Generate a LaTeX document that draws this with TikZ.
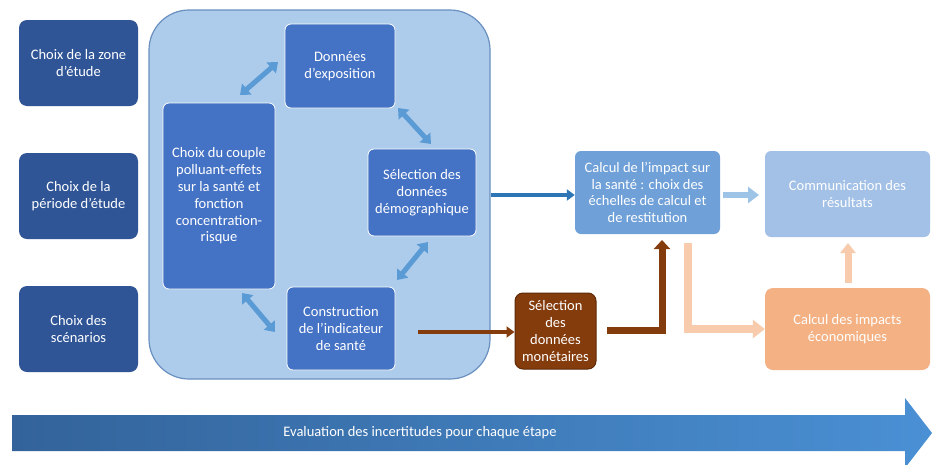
\documentclass[tikz,border=0pt]{standalone}
\usepackage{fontspec}
\setmainfont{Carlito}
\usetikzlibrary{arrows.meta,calc}
\definecolor{navy}{HTML}{2F5597}
\definecolor{midblue}{HTML}{4472C4}
\definecolor{contfill}{HTML}{ADCBEA}
\definecolor{contdraw}{HTML}{6A90C0}
\definecolor{dblarrow}{HTML}{5B9BD5}
\definecolor{calcblue}{HTML}{6FA0D8}
\definecolor{commblue}{HTML}{A3C1E6}
\definecolor{orangebox}{HTML}{F4B183}
\definecolor{orangearr}{HTML}{F8CBAD}
\definecolor{brown}{HTML}{843C0C}
\definecolor{darkbrown}{HTML}{5E2A08}
\definecolor{strongblue}{HTML}{2E75B6}
\definecolor{lightarr}{HTML}{9DC3E6}
\definecolor{barleft}{HTML}{33639A}
\definecolor{barright}{HTML}{4A90D4}
\begin{document}
\begin{tikzpicture}[x=1pt,y=-1pt,
  font=\fontsize{14.5}{16.8}\selectfont,
  box/.style={rectangle, align=center, text=white, inner sep=2pt},
  leftbox/.style={box, fill=navy, rounded corners=8pt},
  innerbox/.style={box, fill=midblue, draw=white, line width=0.8pt, rounded corners=6pt},
  dbl/.style={draw=dblarrow, line width=5pt,
    {Triangle[width=14pt,length=9pt]}-{Triangle[width=14pt,length=9pt]}},
  fat/.style={line width=#1},
]
\useasboundingbox (0,0) rectangle (932,464);
\fill[white] (0,0) rectangle (932,464);

% left column
\node[leftbox, minimum width=119pt, minimum height=86pt] (zone) at (78.5,63) {Choix de la zone\\d’étude};
\node[leftbox, minimum width=119pt, minimum height=86pt] (periode) at (78.5,196) {Choix de la\\période d’étude};
\node[leftbox, minimum width=119pt, minimum height=86pt] (scen) at (78.5,329) {Choix des\\scénarios};

% container
\node[draw=contdraw, fill=contfill, line width=1.2pt, rounded corners=40pt,
  minimum width=341pt, minimum height=369pt] (cont) at (319.5,194.5) {};

\node[innerbox, minimum width=110pt, minimum height=84pt] (expo) at (340,66) {Données\\d’exposition};
\node[innerbox, minimum width=112pt, minimum height=186pt] (couple) at (219,196) {Choix du couple\\polluant-effets\\sur la santé et\\fonction\\concentration-\\risque};
\node[innerbox, minimum width=108pt, minimum height=87pt] (demo) at (422,192.5) {Sélection des\\données\\démographique};
\node[innerbox, minimum width=108pt, minimum height=83pt] (constr) at (341,328.5) {Construction\\de l’indicateur\\de santé};

% double arrows inside
\coordinate (d1a) at (240,95); \coordinate (d1b) at (278,62);
\coordinate (d2a) at (398,108); \coordinate (d2b) at (431,144);
\coordinate (d3a) at (428,242); \coordinate (d3b) at (397,280);
\coordinate (d4a) at (242,293); \coordinate (d4b) at (275,332);
\draw[dbl] (d1a) -- (d1b);
\draw[dbl] (d2a) -- (d2b);
\draw[dbl] (d3a) -- (d3b);
\draw[dbl] (d4a) -- (d4b);

% right part
\node[box, fill=calcblue, rounded corners=6pt, minimum width=145pt, minimum height=83pt] (calc) at (647.5,192.5) {Calcul de l’impact sur\\la santé : choix des\\échelles de calcul et\\de restitution};
\node[box, fill=commblue, rounded corners=6pt, minimum width=165pt, minimum height=86pt] (comm) at (847.5,194) {Communication des\\résultats};
\node[box, fill=orangebox, rounded corners=8pt, minimum width=165pt, minimum height=82pt] (eco) at (847.5,329) {Calcul des impacts\\économiques};
\node[box, fill=brown, draw=darkbrown, line width=1pt, rounded corners=8pt, minimum width=81pt, minimum height=76pt] (mon) at (555.5,331) {Sélection\\des\\données\\monétaires};

% arrows
\coordinate (ba) at (cont.east |- 0,195);
\draw[strongblue, fat=4pt, -{Triangle[width=11pt,length=8pt]}] (ba) -- (calc.west |- ba);

\coordinate (br1) at (418,332);
\draw[brown, fat=4pt, -{Triangle[width=11pt,length=8pt]}] (br1) -- (mon.west |- br1);

\coordinate (br2) at (607,330);
\coordinate (br2c) at (662,330);
\coordinate (br2e) at (662,240);
\draw[brown, fat=7pt, -{Triangle[width=16pt,length=9pt]}] (br2) -- (br2c) -- (br2e);

\coordinate (or1) at (688,243);
\coordinate (or1c) at (688,329);
\draw[orangearr, fat=8pt, -{Triangle[width=18pt,length=12pt]}] (or1) -- (or1c) -- (eco.west |- or1c);

\coordinate (lb1) at (723,195);
\coordinate (lb2) at (759,195);
\draw[lightarr, fat=6pt, -{Triangle[width=16pt,length=11pt]}] (lb1) -- (lb2);

\coordinate (ou1) at (848,283);
\coordinate (ou2) at (848,243);
\draw[orangearr, fat=7pt, -{Triangle[width=15pt,length=10pt]}] (ou1) -- (ou2);

% bottom bar
\path[left color=barleft, right color=barright]
  (12,415) -- (905,415) -- (905,398) -- (932,433) -- (905,468) -- (905,451) -- (12,451) -- cycle;
\node[text=white] (eval) at (420,433) {Evaluation des incertitudes pour chaque étape};
\end{tikzpicture}
\end{document}
